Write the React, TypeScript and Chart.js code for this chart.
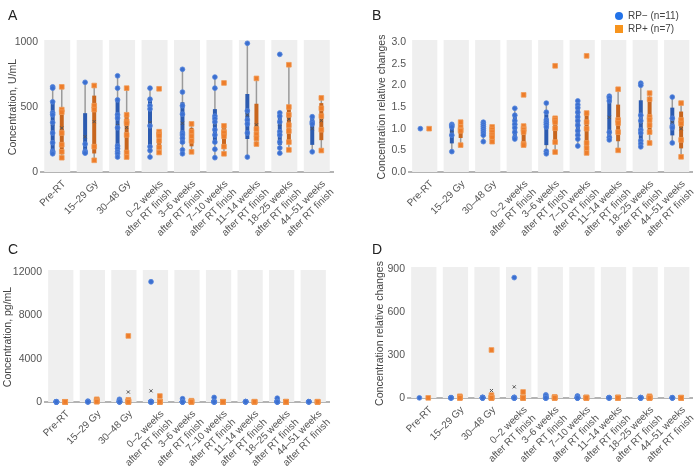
import React, { useEffect, useRef } from 'react';
import { Chart, registerables } from 'chart.js';
Chart.register(...registerables);

const categories: string[][] = [
  ['Pre-RT'],
  ['15–29 Gy'],
  ['30–48 Gy'],
  ['0–2 weeks', 'after RT finish'],
  ['3–6 weeks', 'after RT finish'],
  ['7–10 weeks', 'after RT finish'],
  ['11–14 weeks', 'after RT finish'],
  ['18–25 weeks', 'after RT finish'],
  ['44–51 weeks', 'after RT finish'],
];

const seriesNames = ['RP− (n=11)', 'RP+ (n=7)'];

// Panel A: concentration U/mL
const aBlue: number[][] = [
  [655, 645, 540, 455, 440, 380, 300, 225, 160, 150, 140],
  [690, 215, 160, 150, 145],
  [740, 645, 555, 440, 415, 340, 200, 180, 155, 140, 115],
  [645, 560, 510, 485, 355, 195, 165, 115],
  [790, 615, 510, 445, 300, 285, 260, 230, 170, 140],
  [730, 645, 430, 410, 385, 325, 285, 230, 175, 110],
  [990, 470, 400, 370, 300, 115],
  [905, 455, 430, 385, 310, 285, 230, 185, 145],
  [425, 385, 370, 155],
];
const aOrange: number[][] = [
  [655, 480, 460, 300, 210, 155, 110],
  [665, 510, 480, 195, 90],
  [645, 440, 390, 375, 285, 150, 115],
  [640, 310, 290, 280, 240, 190, 150],
  [370, 310, 275, 240, 155],
  [685, 355, 310, 300, 275, 195, 140],
  [720, 330, 290, 260, 215],
  [825, 500, 440, 360, 315, 230, 170],
  [570, 490, 430, 325, 165],
];

// Panel B: relative changes
const bBlue: number[][] = [
  [1.0],
  [1.1, 1.07, 1.04, 0.85, 0.47],
  [1.15, 1.1, 1.05, 1.0, 0.95, 0.9, 0.85, 0.7],
  [1.47, 1.31, 1.18, 1.1, 1.02, 0.92, 0.8, 0.76],
  [1.59, 1.38, 1.2, 1.15, 1.1, 1.04, 0.48, 0.42],
  [1.64, 1.55, 1.48, 1.38, 1.27, 1.18, 1.08, 0.95, 0.85, 0.76, 0.6],
  [1.75, 1.71, 1.64, 0.92, 0.8, 0.74],
  [2.05, 2.0, 1.31, 1.18, 0.97, 0.9, 0.72, 0.65, 0.58],
  [1.73, 1.24, 1.06, 1.02, 0.67],
];
const bOrange: number[][] = [
  [1.0],
  [1.15, 1.04, 0.97, 0.95, 0.62],
  [1.04, 0.98, 0.92, 0.85, 0.8, 0.7],
  [1.78, 1.06, 1.0, 0.97, 0.92, 0.65, 0.62],
  [2.45, 1.24, 1.2, 1.15, 1.01, 0.69, 0.46],
  [2.68, 1.36, 1.15, 1.0, 0.67, 0.55, 0.44],
  [1.91, 1.2, 1.13, 0.92, 0.5],
  [1.82, 1.68, 1.27, 1.2, 1.08, 0.92, 0.67],
  [1.59, 1.2, 1.12, 0.74, 0.35],
];

// Panel C: concentration pg/mL
const cBlue: number[][] = [
  [5, 10, 8, 12, 6, 15, 20, 9, 7, 11, 14],
  [80, 30, 20, 10, 15],
  [250, 150, 100, 50, 30, 20, 10, 15, 25],
  [11100, 50, 30, 20, 10, 15, 25, 40, 8, 12, 5],
  [300, 50, 30, 20, 10, 15, 25, 40, 8, 12],
  [420, 50, 30, 20, 10, 15, 25, 40, 8, 12],
  [40, 30, 20, 10, 15, 25],
  [350, 50, 30, 20, 10, 15, 25, 40, 8],
  [30, 20, 10, 15, 25],
];
const cOrange: number[][] = [
  [10, 12, 8, 15, 20, 9, 11],
  [250, 150, 80, 40, 30],
  [6100, 200, 80, 40, 20, 10, 5],
  [550, 40, 20, 10, 5, 15],
  [120, 50, 20, 10, 5],
  [30, 20, 10, 5, 15, 8],
  [30, 20, 10, 5, 15],
  [40, 20, 10, 5, 15, 8, 12],
  [30, 20, 10, 5, 15],
];

// Panel D: relative changes
const dBlue: number[][] = [
  [1],
  [3, 1.5, 1, 0.8, 0.5],
  [5, 3, 2, 1.5, 1, 0.8, 0.5, 0.3, 1.2],
  [840, 5, 3, 2, 1, 0.8, 0.5, 1.5, 1.2, 0.9, 0.7],
  [22, 15, 3, 2, 1, 0.8, 0.5, 1.5, 1.2, 0.9],
  [14, 10, 3, 1, 0.8, 0.5, 1.5, 1.2, 0.9, 0.7],
  [3, 2, 1, 0.8, 0.5, 1.2],
  [3, 2, 1, 0.8, 0.5, 1.2, 0.9, 0.7, 1.5],
  [2, 1, 0.8, 0.5, 1.2],
];
const dOrange: number[][] = [
  [1],
  [12, 5, 2, 1, 0.8],
  [335, 20, 5, 2, 1, 0.5, 0.8],
  [42, 5, 2, 1, 0.8, 0.5],
  [8, 3, 1, 0.5, 0.8],
  [5, 2, 1, 0.5, 0.8, 0.6],
  [5, 2, 1, 0.5, 0.8],
  [12, 4, 2, 1, 0.5, 0.8, 0.6],
  [3, 2, 1, 0.5, 0.8],
];

const aTicks = { min: 0, max: 1000, step: 500, decimals: 0 };
const bTicks = { min: 0, max: 3, step: 0.5, decimals: 1 };
const cTicks = { min: 0, max: 12000, step: 4000, decimals: 0 };
const dTicks = { min: 0, max: 900, step: 300, decimals: 0 };

const FONT = '"Liberation Sans", Arial, Helvetica, sans-serif';
const BLUE = '#3b6fd0';
const ORANGE = '#ee7d2a';
const BLUE_BOX = '#2c5bb0';
const ORANGE_BOX = '#c8661e';
const OFF = 0.14;
const CW = 350;
const CH = 246;

function quantileExc(sorted: number[], p: number) {
  const n = sorted.length;
  let pos = p * (n + 1);
  if (pos < 1) pos = 1;
  if (pos > n) pos = n;
  const lo = Math.floor(pos);
  const frac = pos - lo;
  const a = sorted[lo - 1];
  const b = sorted[Math.min(lo, n - 1)];
  return a + frac * (b - a);
}

const boxPlugin = {
  id: 'boxcols',
  beforeDatasetsDraw(chart: any) {
    const { ctx, chartArea, scales } = chart;
    const x = scales.x, y = scales.y;
    const cfg = chart.options.plugins.boxcols;
    ctx.save();
    ctx.fillStyle = '#efefef';
    for (let i = 0; i < categories.length; i++) {
      const l = x.getPixelForValue(i - 0.4);
      const r = x.getPixelForValue(i + 0.4);
      ctx.fillRect(l, chartArea.top - 2, r - l, chartArea.bottom - chartArea.top + 2);
    }
    const series = [
      { data: cfg.blue as number[][], off: -OFF, color: BLUE_BOX },
      { data: cfg.orange as number[][], off: OFF, color: ORANGE_BOX },
    ];
    for (const s of series) {
      s.data.forEach((vals, i) => {
        if (vals.length < 2) return;
        const sorted = [...vals].sort((a, b) => a - b);
        const px = x.getPixelForValue(i + s.off);
        const q1 = quantileExc(sorted, 0.25);
        const q3 = quantileExc(sorted, 0.75);
        const iqr = q3 - q1;
        const inside = sorted.filter((v) => v >= q1 - 1.5 * iqr && v <= q3 + 1.5 * iqr);
        const lo = inside.length ? inside[0] : q1;
        const hi = inside.length ? inside[inside.length - 1] : q3;
        ctx.strokeStyle = '#9a9a9a';
        ctx.lineWidth = 1.5;
        ctx.beginPath();
        ctx.moveTo(px, y.getPixelForValue(lo));
        ctx.lineTo(px, y.getPixelForValue(hi));
        ctx.stroke();
        ctx.strokeStyle = s.color;
        ctx.lineWidth = 4;
        ctx.beginPath();
        ctx.moveTo(px, y.getPixelForValue(q1));
        ctx.lineTo(px, y.getPixelForValue(q3));
        ctx.stroke();
      });
    }
    ctx.restore();
  },
};

type PanelProps = {
  blue: number[][];
  orange: number[][];
  ticks: { min: number; max: number; step: number; decimals: number };
  title: string;
  left: number;
  top: number;
  area: { l: number; r: number; t: number; b: number };
  titlePad: number;
};

function Panel(p: PanelProps) {
  const ref = useRef<HTMLCanvasElement>(null);
  useEffect(() => {
    const pts = (arr: number[][], off: number) =>
      arr.flatMap((vals, i) => vals.map((v) => ({ x: i + off, y: v })));
    const means = (arr: number[][], off: number) =>
      arr
        .map((vals, i) => (vals.length > 1 ? { x: i + off, y: vals.reduce((a, b) => a + b, 0) / vals.length } : null))
        .filter(Boolean);
    const chart = new Chart(ref.current!, {
      type: 'scatter',
      data: {
        datasets: [
          { data: pts(p.blue, -OFF), pointStyle: 'circle', pointRadius: 2.4, backgroundColor: BLUE, borderColor: '#5585dc', borderWidth: 0.8, clip: false } as any,
          { data: pts(p.orange, OFF), pointStyle: 'rect', pointRadius: 3.3, backgroundColor: ORANGE, borderColor: '#f09a55', borderWidth: 0.8, clip: false } as any,
          { data: [...means(p.blue, -OFF), ...means(p.orange, OFF)], pointStyle: 'crossRot', pointRadius: 2.2, borderColor: '#555', borderWidth: 1, clip: false } as any,
        ],
      },
      options: {
        animation: false,
        responsive: false,
        maintainAspectRatio: false,
        layout: { padding: { left: 0, right: CW - p.area.r, top: p.area.t, bottom: 0 } },
        plugins: {
          legend: { display: false },
          tooltip: { enabled: false },
          boxcols: { blue: p.blue, orange: p.orange },
        } as any,
        scales: {
          x: {
            type: 'linear',
            min: -0.5,
            max: 8.5,
            grid: { display: false, drawTicks: false },
            border: { display: true, color: '#b4b4b4', width: 2 },
            afterBuildTicks: (s: any) => {
              s.ticks = categories.map((_, i) => ({ value: i }));
            },
            afterFit: (s: any) => {
              s.height = CH - p.area.b;
            },
            ticks: {
              autoSkip: false,
              maxRotation: 45,
              minRotation: 45,
              padding: 6,
              labelOffset: 7,
              color: '#555',
              font: { family: FONT, size: 10 },
              callback: (v: any) => categories[Math.round(v)] as any,
            },
          },
          y: {
            type: 'linear',
            min: p.ticks.min,
            max: p.ticks.max,
            grid: { display: false, drawTicks: false },
            border: { display: false },
            afterFit: (s: any) => {
              s.width = p.area.l;
            },
            ticks: {
              stepSize: p.ticks.step,
              padding: 3,
              color: '#555',
              font: { family: FONT, size: 10.5 },
              callback: (v: any) => Number(v).toFixed(p.ticks.decimals),
            },
            title: {
              display: true,
              text: p.title,
              color: '#444',
              font: { family: FONT, size: 10.5 },
              padding: { top: p.titlePad, bottom: 0 },
            },
          },
        },
      },
      plugins: [boxPlugin],
    } as any);
    return () => chart.destroy();
  }, []);
  return (
    <canvas
      ref={ref}
      width={CW}
      height={CH}
      style={{ position: 'absolute', left: p.left, top: p.top, width: CW, height: CH }}
    />
  );
}

const letterStyle: React.CSSProperties = {
  position: 'absolute',
  fontFamily: FONT,
  fontSize: 14,
  color: '#222',
  lineHeight: '14px',
};

export default function App() {
  return (
    <div style={{ position: 'fixed', left: 0, top: 0, width: 700, height: 468, background: '#fff', overflow: 'hidden' }}>
      <Panel blue={aBlue} orange={aOrange} ticks={aTicks} title="Concentration, U/mL" left={0} top={0} area={{ l: 41, r: 333, t: 42, b: 172 }} titlePad={7} />
      <Panel blue={bBlue} orange={bOrange} ticks={bTicks} title="Concentration relative changes" left={350} top={0} area={{ l: 59, r: 344, t: 42, b: 172 }} titlePad={26} />
      <Panel blue={cBlue} orange={cOrange} ticks={cTicks} title="Concentration, pg/mL" left={0} top={234} area={{ l: 45, r: 329, t: 38, b: 168 }} titlePad={2} />
      <Panel blue={dBlue} orange={dOrange} ticks={dTicks} title="Concentration relative changes" left={350} top={234} area={{ l: 58, r: 345, t: 35, b: 164 }} titlePad={24} />
      <div style={{ ...letterStyle, left: 8, top: 8 }}>A</div>
      <div style={{ ...letterStyle, left: 372, top: 8 }}>B</div>
      <div style={{ ...letterStyle, left: 8, top: 242 }}>C</div>
      <div style={{ ...letterStyle, left: 372, top: 242 }}>D</div>
      <div style={{ position: 'absolute', left: 615, top: 12, width: 8, height: 8, borderRadius: 4, background: '#2272e8' }} />
      <div style={{ position: 'absolute', left: 615, top: 25, width: 8, height: 8, background: '#f7941d' }} />
      <div style={{ position: 'absolute', left: 628, top: 10, fontFamily: FONT, fontSize: 10, color: '#444', lineHeight: '12px', whiteSpace: 'nowrap' }}>{seriesNames[0]}</div>
      <div style={{ position: 'absolute', left: 628, top: 23, fontFamily: FONT, fontSize: 10, color: '#444', lineHeight: '12px', whiteSpace: 'nowrap' }}>{seriesNames[1]}</div>
    </div>
  );
}
